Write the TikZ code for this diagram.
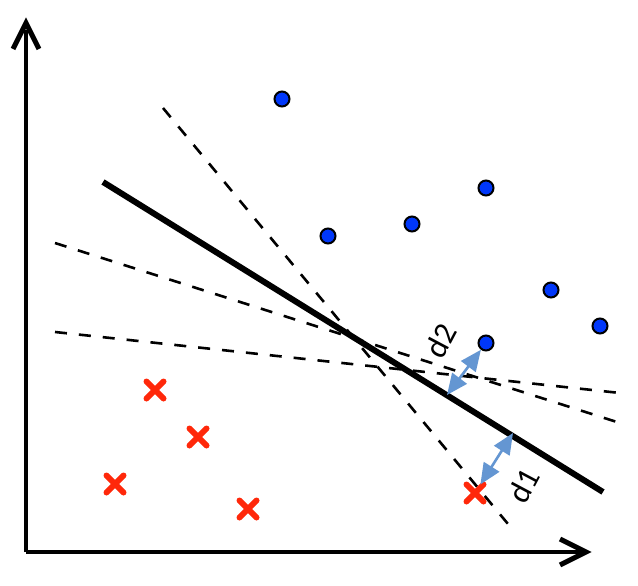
\documentclass[tikz,border=0pt]{standalone}
\usepackage{fontspec}
\setmainfont{Carlito}
\usetikzlibrary{arrows.meta,shapes.misc}
\definecolor{dotblue}{RGB}{0,55,250}
\definecolor{xred}{RGB}{255,40,10}
\definecolor{arrblue}{RGB}{100,150,210}
\begin{document}
\begin{tikzpicture}[x=1pt,y=-1pt,
  axis/.style={line width=3.2pt},
  tipline/.style={line width=5pt,line join=miter,line cap=butt},
  sep/.style={line width=6pt},
  alt/.style={line width=2.6pt,dash pattern=on 12pt off 12pt},
  bdot/.style={circle,draw=black,line width=2pt,fill=dotblue,minimum size=15pt,inner sep=0pt},
  rx/.style={cross out,draw=xred,line width=6pt,line cap=round,minimum size=11pt,inner sep=0pt},
  dist/.style={draw=arrblue,line width=2.6pt,{Triangle[length=21pt,width=18pt]}-{Triangle[length=21pt,width=18pt]}},
  lbl/.style={font=\fontsize{32}{32}\selectfont,inner sep=0pt,rotate=62}]
\useasboundingbox (0,0) rectangle (638,586);
% axes
\coordinate (O) at (26,552);
\coordinate (Ytip) at (26,23);
\coordinate (Xtip) at (586,552);
\draw[axis] (O) -- (26,30);
\draw[axis] (O) -- (580,552);
\draw[tipline] (13,49) -- (Ytip) -- (39,49);
\draw[tipline] (560,539) -- (Xtip) -- (560,565);
% separating lines
\coordinate (sA) at (103,182);
\coordinate (sB) at (603,492);
\draw[sep] (sA) -- (sB);
\coordinate (a1) at (163,108);
\coordinate (a2) at (513,530);
\draw[alt] (a1) -- (a2);
\coordinate (b1) at (55,243);
\coordinate (b2) at (620,423);
\draw[alt] (b1) -- (b2);
\coordinate (c1) at (55,332);
\coordinate (c2) at (620,393);
\draw[alt] (c1) -- (c2);
% blue dots
\node[bdot] (p1) at (282,99) {};
\node[bdot] (p2) at (328,236) {};
\node[bdot] (p3) at (412,224) {};
\node[bdot] (p4) at (486,188) {};
\node[bdot] (p5) at (551,290) {};
\node[bdot] (p6) at (600,326) {};
\node[bdot] (p7) at (486,343) {};
% red crosses
\node[rx] (x1) at (155,390) {};
\node[rx] (x2) at (198,437) {};
\node[rx] (x3) at (115,484) {};
\node[rx] (x4) at (248,509) {};
\node[rx] (x5) at (475,493) {};
% distances
\coordinate (q2) at (447,395);
\coordinate (q1) at (513,433);
\draw[dist] (p7) -- (q2);
\draw[dist] (q1) -- (x5);
\node[lbl] (l2) at (441,341) {d2};
\node[lbl] (l1) at (524,486) {d1};
\end{tikzpicture}
\end{document}
